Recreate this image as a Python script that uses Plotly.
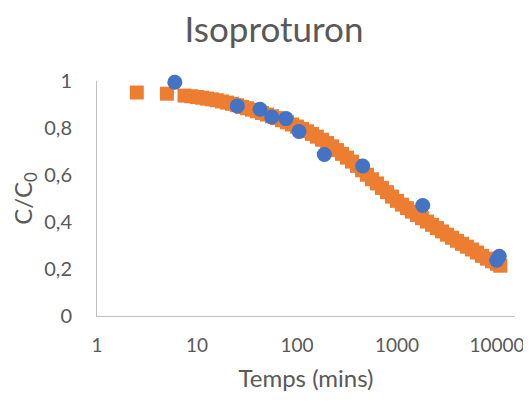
import plotly.graph_objects as go

# Orange series (model curve, square markers)
model_t = [2.5, 5, 7.5, 8.75, 10, 11.2, 12.6, 14.1, 15.8, 17.8, 20, 22.4, 25.1, 28.2,
           31.6, 35.5, 39.8, 44.7, 50.1, 56.2, 63.1, 70.8, 79.4, 89.1, 100, 112,
           126, 141, 158, 178, 200, 224, 251, 282, 316, 355, 398, 447, 501, 562,
           631, 708, 794, 891, 1000, 1122, 1259, 1413, 1585, 1778, 1995, 2239,
           2512, 2818, 3162, 3548, 3981, 4467, 5012, 5623, 6310, 7079, 7943,
           8913, 10000, 10800]
model_c = [0.951, 0.946, 0.938, 0.935, 0.932, 0.929, 0.925, 0.922, 0.918, 0.913,
           0.908, 0.903, 0.897, 0.890, 0.884, 0.878, 0.871, 0.864, 0.857, 0.850,
           0.842, 0.833, 0.824, 0.815, 0.806, 0.796, 0.786, 0.775, 0.763, 0.750,
           0.736, 0.722, 0.706, 0.690, 0.674, 0.657, 0.639, 0.620, 0.601, 0.582,
           0.564, 0.545, 0.527, 0.508, 0.490, 0.474, 0.459, 0.444, 0.430, 0.416,
           0.402, 0.388, 0.374, 0.360, 0.346, 0.333, 0.320, 0.307, 0.295, 0.283,
           0.270, 0.256, 0.244, 0.233, 0.222, 0.214]

# Blue series (experimental points)
exp_t = [6.0, 25.3, 42.7, 55.8, 77.6, 104.7, 187.6, 454, 1807, 9930, 10540]
exp_c = [0.995, 0.894, 0.880, 0.847, 0.840, 0.785, 0.687, 0.638, 0.470, 0.237, 0.254]

x_tickvals = [1, 10, 100, 1000, 10000]
x_ticktext = ["1", "10", "100", "1000", "10000"]
y_tickvals = [0, 0.2, 0.4, 0.6, 0.8, 1.0]
y_ticktext = ["0", "0,2", "0,4", "0,6", "0,8", "1"]

FONT = "Lato"
GREY = "#595959"

fig = go.Figure()
fig.add_trace(go.Scatter(
    x=model_t, y=model_c, mode="markers",
    marker=dict(symbol="square", size=14, color="#ED7D31", line=dict(width=0)),
    showlegend=False, cliponaxis=False))
fig.add_trace(go.Scatter(
    x=exp_t, y=exp_c, mode="markers",
    marker=dict(symbol="circle", size=15, color="#4472C4", line=dict(width=0)),
    showlegend=False, cliponaxis=False))

# the page body adds an 8px offset; keep the figure inside the window
fig.update_layout(
    width=522, height=384,
    margin=dict(l=89, r=15, t=73, b=76, autoexpand=False),
    paper_bgcolor="white", plot_bgcolor="white",
    font=dict(family=FONT, color=GREY),
    title=dict(text="Isoproturon", x=0.5096, xanchor="center",
               yref="container", y=1 - 22 / 384, yanchor="middle",
               font=dict(family=FONT, size=35, color=GREY)),
    xaxis=dict(type="log", range=[0, 4.18], automargin=False,
               tickvals=x_tickvals, ticktext=x_ticktext,
               showgrid=False, zeroline=False, ticks="",
               showline=True, linecolor="#BFBFBF", linewidth=1,
               ticklabelstandoff=12,
               tickfont=dict(family=FONT, size=19, color=GREY),
               title=dict(text="Temps (mins)", standoff=24,
                          font=dict(family=FONT, size=24, color=GREY))),
    yaxis=dict(range=[0, 1], automargin=False,
               tickvals=y_tickvals, ticktext=y_ticktext,
               showgrid=False, zeroline=False, ticks="",
               showline=True, linecolor="#BFBFBF", linewidth=1,
               ticklabelstandoff=20,
               tickfont=dict(family=FONT, size=20, color=GREY),
               title=dict(text="C/C<sub>0</sub>", standoff=8,
                          font=dict(family=FONT, size=24, color=GREY))),
)

fig.write_html("out.html")
